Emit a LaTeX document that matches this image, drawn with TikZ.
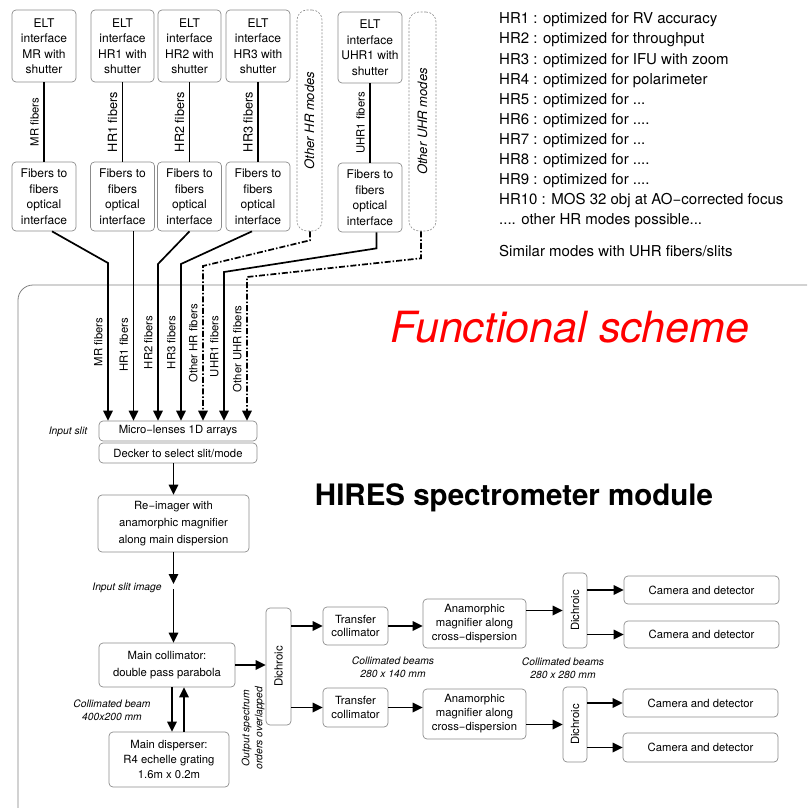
\documentclass[tikz,border=0pt]{standalone}
\usepackage{fontspec}
\setmainfont{TeX Gyre Heros}
\usetikzlibrary{arrows.meta,calc,positioning}

\newcommand{\fsz}[2]{\fontsize{#1}{#2}\selectfont}

\begin{document}
\begin{tikzpicture}[x=1pt,y=-1pt,node distance=20.1pt,
		eltbox/.style={draw=black!45,line width=0.7pt,rounded corners=4,align=center,inner sep=0pt,
			minimum width=64,minimum height=72,font=\fsz{12}{15.5}},
		modebox/.style={draw=black!45,line width=0.6pt,dash pattern=on 2pt off 1.5pt,rounded corners=10,inner sep=0pt},
		block/.style={draw=black!45,line width=0.7pt,rounded corners=4,align=center,inner sep=0pt,
			font=\fsz{11.3}{15}},
		note/.style={align=center,inner sep=0pt,font=\fsz{10.3}{13}\itshape},
		fiblbl/.style={rotate=90,anchor=south,inner sep=4.5pt,font=\fsz{11.3}{13}},
		legend/.style={anchor=west,inner sep=0pt,font=\fsz{15}{17}},
		fiber/.style={line width=1.4pt},
		flow/.style={line width=1.7pt,-{Triangle[length=10pt,width=9.5pt]}},
		otherflow/.style={flow,dash pattern=on 6pt off 2pt on 1.5pt off 2pt}
		]
	\useasboundingbox (0,0) rectangle (807,808);

	% spectrometer module frame
	\begin{scope}
		\clip (0,0) rectangle (807,808);
		\draw[draw=black!50,line width=0.8pt,rounded corners=15] (18,285) rectangle (840,830);
	\end{scope}

	% ELT interfaces
	\node[eltbox](eltMR) at (44,46){ELT\\interface\\MR with\\shutter};
	\node[eltbox,minimum width=63](eltHRa) at (122.5,46){ELT\\interface\\HR1 with\\shutter};
	\node[eltbox,minimum width=63](eltHRb) at (189.5,46){ELT\\interface\\HR2 with\\shutter};
	\node[eltbox](eltHRc) at (258,46){ELT\\interface\\HR3 with\\shutter};
	\node[eltbox,minimum height=71](eltUHR) at (370,47.5){ELT\\interface\\UHR1 with\\shutter};

	\node[eltbox,minimum height=69,node distance=150.5,below of=eltMR](fibMR){Fibers to\\fibers\\optical\\interface};
	\node[eltbox,minimum height=69,node distance=150.5,below of=eltHRa](fibHRa){Fibers to\\fibers\\optical\\interface};
	\node[eltbox,minimum height=69,node distance=150.5,below of=eltHRb](fibHRb){Fibers to\\fibers\\optical\\interface};
	\node[eltbox,minimum height=69,node distance=150.5,below of=eltHRc](fibHRc){Fibers to\\fibers\\optical\\interface};
	\node[eltbox,minimum height=69,node distance=150,below of=eltUHR](fibUHR){Fibers to\\fibers\\optical\\interface};

	\node[modebox,minimum width=25,minimum height=221](otherHR) at (309.5,120.5){};
	\node[rotate=90,font=\fsz{13}{15}\itshape] at (otherHR){Other HR modes};
	\node[modebox,minimum width=27,minimum height=219](otherUHR) at (422.5,121.5){};
	\node[rotate=90,font=\fsz{13}{15}\itshape] at (otherUHR){Other UHR modes};

	\draw[fiber] (eltMR) -- (fibMR) node[fiblbl,midway]{MR fibers};
	\draw[fiber] (eltHRa) -- (fibHRa) node[fiblbl,midway,font=\fsz{12.7}{14}]{HR1 fibers};
	\draw[fiber] (eltHRb) -- (fibHRb) node[fiblbl,midway,font=\fsz{12.7}{14}]{HR2 fibers};
	\draw[fiber] (eltHRc) -- (fibHRc) node[fiblbl,midway,font=\fsz{12.7}{14}]{HR3 fibers};
	\draw[fiber] (eltUHR) -- (fibUHR) node[fiblbl,midway]{UHR1 fibers};

	% input slit
	\node[block,minimum width=158,minimum height=20](micro) at (178,431){Micro−lenses 1D arrays};
	\node[block,minimum width=158,minimum height=20,node distance=22,below of=micro](decker){Decker to select slit/mode};
	\node[note](inslit) at (68,432){Input slit};

	\coordinate (kMR) at (108,263);
	\coordinate (kHRa) at ($(fibHRa.south)+(11,0)$);
	\coordinate (kHRb) at (158,264);
	\coordinate (kHRc) at (181,264);
	\coordinate (kOHR) at (203,266);
	\coordinate (kUHR) at (224,272);
	\coordinate (kOUHR) at (247,277);
	\draw[flow] ($(fibMR.south)+(8,0)$) -- (kMR) -- (kMR |- micro.north) node[fiblbl,midway]{MR fibers};
	\draw[flow] (kHRa) -- (kHRa |- micro.north) node[fiblbl,pos=0.6]{HR1 fibers};
	\draw[flow] (fibHRb.south) -- (kHRb) -- (kHRb |- micro.north) node[fiblbl,midway]{HR2 fibers};
	\draw[flow] ($(fibHRc.south)+(-6,0)$) -- (kHRc) -- (kHRc |- micro.north) node[fiblbl,midway]{HR3 fibers};
	\draw[otherflow] ($(otherHR.south)+(0.5,0)$) -- ++(0,9) -- (kOHR) -- (kOHR |- micro.north) node[fiblbl,midway]{Other HR fibers};
	\draw[flow] ($(fibUHR.south)+(6.5,0)$) -- ++(0,16) -- (kUHR) -- (kUHR |- micro.north) node[fiblbl,midway]{UHR1 fibers};
	\draw[otherflow] ($(otherUHR.south)+(-1.5,0)$) -- ++(0,27) -- (kOUHR) -- (kOUHR |- micro.north) node[fiblbl,midway]{Other UHR fibers};

	% main optics
	\node[block,minimum width=151,minimum height=57,font=\fsz{11.3}{17}](reimg) at (173.5,523.5){Re−imager with\\anamorphic magnifier\\along main dispersion};
	\draw[flow] (decker.south -| reimg) -- (reimg);

	\node[block,minimum width=136,minimum height=44,font=\fsz{11.3}{17}](coll) at (167,665){Main collimator:\\double pass parabola};
	\coordinate (slitA) at (173.5,584);
	\coordinate (slitB) at (173.5,589);
	\draw[flow] (reimg) -- (slitA);
	\draw[flow] (slitB) -- (slitB |- coll.north);
	\node[note](slitlbl) at (127,588){Input slit image};

	\node[block,minimum width=120,minimum height=55](disp) at (169,759.5){Main disperser:\\R4 echelle grating\\1.6m x 0.2m};
	\draw[flow] ($(coll.south)+(5,0)$) -- ($(disp.north)+(3,0)$);
	\draw[flow] ($(disp.north)+(15,0)$) -- ($(coll.south)+(17,0)$);
	\node[note](beam) at (112,710){Collimated beam\\400x200 mm};

	\node[block,minimum width=25,minimum height=117](dich) at (278.5,666.5){};
	\node[rotate=90,font=\fsz{11.3}{13}] at (dich){Dichroic};
	\draw[flow] (coll.east) -- (coll.east -| dich.west);
	\node[note,rotate=90](output) at (253,728){Output spectrum\\orders overlapped};

	% two arms
	\node[block,minimum width=65,minimum height=38,font=\fsz{11.3}{13.5}](trA) at (355.5,626){Transfer\\collimator};
	\node[block,minimum width=65,minimum height=39,font=\fsz{11.3}{13.5}](trB) at (355.5,707.5){Transfer\\collimator};
	\node[block,minimum width=103,minimum height=49,font=\fsz{11.3}{14}](anA) at (474.5,623.5){Anamorphic\\magnifier along\\cross−dispersion};
	\node[block,minimum width=103,minimum height=50,font=\fsz{11.3}{14}](anB) at (474.5,714){Anamorphic\\magnifier along\\cross−dispersion};
	\draw[flow] (dich.east |- trA) -- (trA.west);
	\draw[flow] (dich.east |- trB) -- (trB.west);
	\draw[flow] (trA.east) -- (trA.east -| anA.west);
	\draw[flow] (trB.east) -- (trB.east -| anB.west);
	\node[note](beamsA) at (393,667){Collimated beams\\280 x 140 mm};

	\node[block,minimum width=24,minimum height=75](dA) at (575,610.5){};
	\node[rotate=90,font=\fsz{11.3}{13}] at (dA){Dichroic};
	\node[block,minimum width=24,minimum height=75](dB) at (575,724.5){};
	\node[rotate=90,font=\fsz{11.3}{13}] at (dB){Dichroic};
	\draw[flow] (anA.east |- dA) -- (dA.west);
	\draw[flow] (anB.east |- dB) -- (dB.west);
	\node[note](beamsB) at (563,668){Collimated beams\\280 x 280 mm};

	\node[block,minimum width=155,minimum height=28](camA) at (701.5,590){Camera and detector};
	\node[block,minimum width=155,minimum height=27](camB) at (701.5,634.5){Camera and detector};
	\node[block,minimum width=155,minimum height=28](camC) at (700.5,703){Camera and detector};
	\node[block,minimum width=155,minimum height=29](camD) at (700.5,747.5){Camera and detector};
	\draw[flow] (dA.east |- camA) -- (camA.west);
	\draw[flow] (dA.east |- camB) -- (camB.west);
	\draw[flow] (dB.east |- camC) -- (camC.west);
	\draw[flow] (dB.east |- camD) -- (camD.west);

	% titles
	\node[anchor=base,text=red,inner sep=0pt,font=\fsz{43}{50}\itshape](fscheme) at (570,342){Functional scheme};
	\node[anchor=base,inner sep=0pt,font=\fsz{29.5}{34}\bfseries](module) at (514,505){HIRES spectrometer module};

	% modes list
	\node[legend](hr1) at (499,20){HR1 : optimized for RV accuracy};
	\node[below=20.1pt of hr1.west,legend](hr2){HR2 : optimized for throughput};
	\node[below=20.1pt of hr2.west,legend](hr3){HR3 : optimized for IFU with zoom};
	\node[below=20.1pt of hr3.west,legend](hr4){HR4 : optimized for polarimeter};
	\node[below=20.1pt of hr4.west,legend](hr5){HR5 : optimized for ...};
	\node[below=20.1pt of hr5.west,legend](hr6){HR6 : optimized for ....};
	\node[below=20.1pt of hr6.west,legend](hr7){HR7 : optimized for ...};
	\node[below=20.1pt of hr7.west,legend](hr8){HR8 : optimized for ....};
	\node[below=20.1pt of hr8.west,legend](hr9){HR9 : optimized for ....};
	\node[below=20.1pt of hr9.west,legend](hr10){HR10 : MOS 32 obj at AO−corrected focus};
	\node[below=20.1pt of hr10.west,legend](hrmore){.... other HR modes possible...};
	\node[below=30pt of hrmore.west,legend](uhr){Similar modes with UHR fibers/slits};
\end{tikzpicture}
\end{document}
